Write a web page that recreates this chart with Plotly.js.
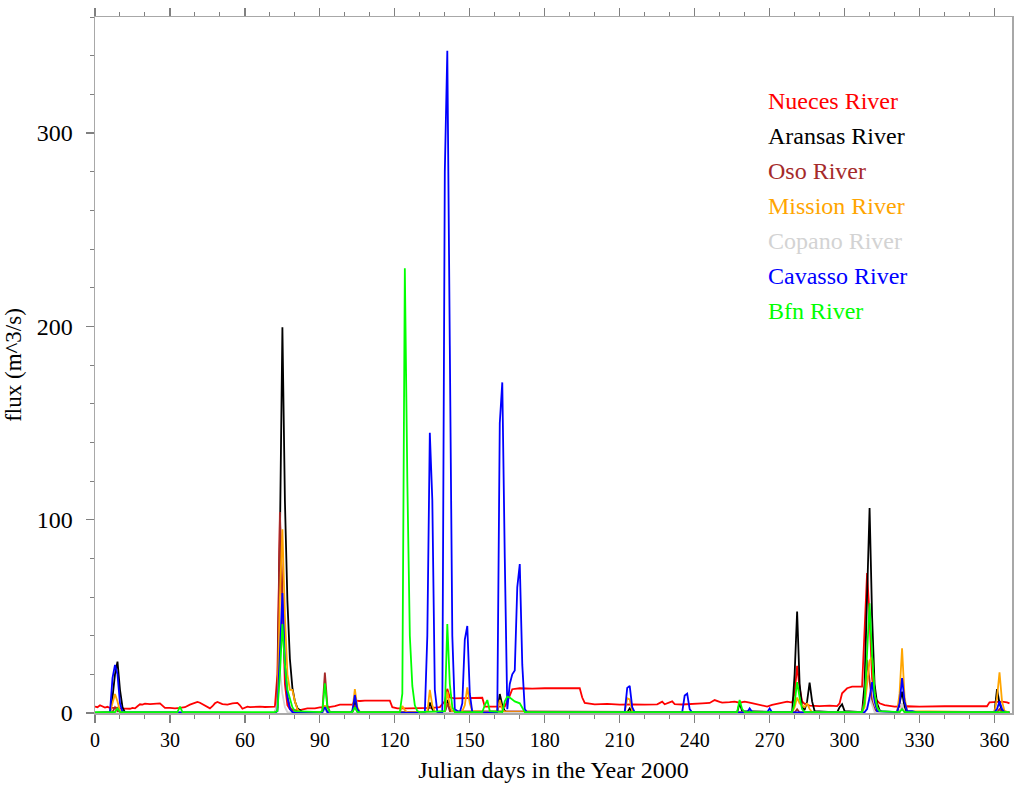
<!DOCTYPE html>
<html>
<head>
<meta charset="utf-8">
<script src="https://cdn.plot.ly/plotly-3.0.1.min.js"></script>
<style>
  html, body { margin: 0; padding: 0; background: #fff; }
  #chart { width: 1014px; height: 785px; }
</style>
</head>
<body>
<div id="chart"></div>
<script>
// Daily river fluxes (m^3/s) for 2000, stored as (Julian day, flux) pairs per river.
const riverNames = ["Nueces River", "Aransas River", "Oso River", "Mission River",
                    "Copano River", "Cavasso River", "Bfn River"];
const riverColors = ["#ff0000", "#000000", "#a52a2a", "#ffa500", "#d3d3d3", "#0000ff", "#00ff00"];

const nuecesDay = [0,1,2,3,4,5,6,8,9,10,12,14,15,16,17,18,19,20,22,24,26,27,28,30,32,34,36,38,40,41,42,44,46,47,48,49,50,51,53,55,57,58,59,60,61,62,64,66,68,70,72,73,74,75,76,77,78,80,82,85,88,90,93,96,98,100,103,104,106,108,110,114,118,119,121,125,130,135,138,140,141,142,144,148,152,155,156,160,164,166,167,170,175,180,185,190,194,195,196,200,205,210,215,220,225,227,228,231,232,235,238,241,243,246,248,250,251,254,256,258,260,262,264,267,269,271,273,275,277,279,280,281,282,283,284,286,290,294,297,298,299,301,303,307,308,309,310,311,312,314,316,320,325,330,340,350,357,358,363,365,366];
const nuecesFlux = [3.3,3.0,4.0,3.4,2.8,3.2,2.6,2.6,2.8,2.4,2.2,2.2,2.6,2.4,3.5,4.5,4.3,4.8,4.6,4.8,5.0,3.8,2.6,2.6,2.4,2.6,3.0,4.3,5.2,5.7,5.3,3.8,2.4,3.5,5.0,5.7,5.0,4.6,4.3,5.0,5.2,4.0,2.2,2.6,3.3,3.0,3.3,3.3,3.1,3.3,3.3,20,100,60,15,4,2.0,1.5,1.5,2.4,2.4,2.9,2.9,3.5,4.3,4.3,4.3,6.4,6.2,6.4,6.4,6.6,6.4,3.0,2.4,2.4,2.4,2.6,3.0,6.0,12.5,8.0,7.6,7.8,7.9,7.9,3.3,3.2,3.3,9.0,12.3,12.8,12.6,12.8,12.9,12.8,12.8,8.0,5.2,4.5,4.7,4.3,4.5,4.3,4.5,5.9,4.5,6.0,4.6,4.4,4.5,4.8,5.0,5.2,6.7,5.8,5.4,5.6,5.9,5.3,5.9,5.4,4.7,3.8,3.3,4.2,4.7,5.5,5.9,5.4,10,24.4,13,6,4.7,3.8,3.6,3.8,3.6,5.0,10.2,12.8,13.6,13.6,40,72.4,50,18,8,5.0,4.1,3.3,3.5,3.3,3.5,3.3,3.5,5.5,5.9,5.5,5.0];

const aransasDay = [0,6,7,8,9,10,11,12,72,73,74,75,76,77,78,79,80,81,83,91,92,93,103,104,105,106,133,134,135,136,140,141,142,143,161,162,163,164,165,213,214,215,257,258,259,279,280,281,282,283,284,285,286,287,288,297,298,299,300,307,308,309,310,311,312,313,314,315,321,322,323,324,325,360,361,362,363,366];
const aransasFlux = [0,0,8,20,26.6,12,3,0.3,0,3,90,199.5,110,58,28,13,6,2.5,0.5,0.3,3,0.3,0.5,6.7,2,0.3,0.5,5.4,2,0.3,0.5,6.7,2.5,0.5,0.5,9.8,4,1,0.2,0.3,2.4,0.5,0.3,5,1,0.3,20,52.5,15,3,1.5,6,15.7,6,1,0.3,3,4.5,1,0.5,15,60,106,50,15,5,1.5,0.5,0.5,5,11,3,0.5,0.5,12.3,5,1,0.3];

const osoDay = [0,7,8,9,10,72,73,74,75,76,77,78,79,80,90,91,92,93,94,103,104,105,140,141,142,280,281,282,307,308,309,310,311,312,313,322,323,324,361,362,363,366];
const osoFlux = [0,0.5,3,1,0,0,5,104,60,25,9,3,1,0,0,1,20.9,4,0.5,0,4,0.5,0.3,5,1,0.3,2,0.3,0.5,8,27.5,18,6,2,0.5,0.5,3,0.5,0.5,2,0.5,0];

const missionDay = [0,6,7,8,9,10,11,72,73,74,75,76,77,78,79,80,81,82,91,92,93,102,103,104,105,106,122,123,124,125,133,134,135,136,140,141,142,143,147,148,149,150,151,160,161,162,163,164,212,213,214,215,216,279,280,281,282,284,285,286,287,307,308,309,310,311,312,313,314,321,322,323,324,325,360,361,362,363,364,366];
const missionFlux = [0,0.5,5,9.8,6,1,0.2,0,2,60,95,50,20,12,12,6,2,0.5,0.3,4,0.5,0.2,1,12.3,3,0.5,0.3,3.6,1.5,0.3,0.5,12,4,0.5,1,11,4,0.5,1,4,13.3,5,1,0.5,1.5,6.7,2,0.5,0.3,7.6,7,1,0.2,0.3,3,8,5,3,5,2,0.5,0.5,3,15,27,29,10,3,0.8,0.5,10,33.5,8,1,0.5,8,21,6,1,0.3];

const copanoDay = [0,72,73,74,75,76,77,91,92,93,308,309,310,311,312,322,323,324,366];
const copanoFlux = [0,0,5,22,10,3,0.5,0,2,0,0,3,8,4,0.5,0,5,0,0];

const cavassoDay = [0,6,7,8,9,10,11,72,73,74,75,76,77,78,79,90,91,92,93,102,103,104,105,106,132,133,134,135,136,137,139,140,141,142,143,144,146,147,148,149,150,151,161,162,163,164,165,166,167,168,169,170,171,172,173,212,213,214,215,216,235,236,237,238,239,261,262,263,264,269,270,271,308,309,310,311,312,313,321,322,323,324,325,327,329,360,361,362,363,364,366];
const cavassoFlux = [0,0.5,18,24.9,20,5,0.5,0,1,35,62,25,8,2,0.5,0,0.5,3,0.5,0,1,9.3,2,0.3,0,40,145,110,12,0.5,0.3,280,342.5,190,40,2,0.3,5,38,45,10,0.5,0.3,150,171,80,2,15,20,22,65,77,25,2,0.3,0.3,13,14,3,0.3,0.3,9,10,2,0.3,0.3,2.4,0.5,0.2,0.3,2.4,0.3,0.5,2,8,16,6,1,0.5,5,18,6,1,1,0.3,0.5,2,6,2,0.5,0];

const bfnDay = [0,8,9,10,33,34,35,72,73,74,75,76,77,78,79,80,90,91,92,93,94,103,104,105,121,122,123,124,125,126,127,128,129,130,140,141,142,143,144,155,156,157,158,163,164,165,166,168,170,171,172,256,257,258,259,260,279,280,281,282,283,284,307,308,309,310,311,312,313,314,322,323,324,366];
const bfnFlux = [0.5,0.5,2.4,0.5,0.5,3.3,0.5,0.5,1,20,46,25,12,6.7,3,1,0.5,1,15.4,3,0.5,0.5,3,0.5,0.5,0.5,10,230,120,40,14,4,1,0.5,1,46,15,3,0.5,0.5,4,6.7,1,0.5,6,8.5,8,6,5,2.4,0.5,0.5,0.5,6.7,2,0.5,0.5,5,16,8,2,0.5,0.5,5,35,56.8,30,10,3,1,0.5,2,0.5,0.5];

const seriesDays = [nuecesDay, aransasDay, osoDay, missionDay, copanoDay, cavassoDay, bfnDay];
const seriesFlux = [nuecesFlux, aransasFlux, osoFlux, missionFlux, copanoFlux, cavassoFlux, bfnFlux];

const serif = "Liberation Serif, Times New Roman, serif";

const traces = riverNames.map((name, i) => ({
  type: "scatter",
  mode: "lines",
  name: name,
  x: seriesDays[i],
  y: seriesFlux[i],
  line: { color: riverColors[i], width: 1.8 },
  hoverinfo: "x+y+name"
}));

// Coloured text labels stacked in the upper right, one per river.
const labelTop = 0.8793, labelStep = 0.0503;
const annotations = riverNames.map((name, i) => ({
  xref: "paper", yref: "paper",
  x: 0.7317, y: labelTop - i * labelStep,
  xanchor: "left", yanchor: "middle",
  text: name, showarrow: false,
  font: { family: serif, size: 24, color: riverColors[i] }
}));

const axisCommon = {
  showgrid: false, zeroline: false,
  showline: true, linecolor: "#a8a8a8", linewidth: 1.5,
  mirror: "ticks",
  ticks: "outside", ticklen: 8, tickwidth: 1.2, tickcolor: "#808080"
};

const layout = {
  width: 1014, height: 785,
  margin: { l: 95, r: 2, t: 17, b: 72 },
  paper_bgcolor: "#ffffff", plot_bgcolor: "#ffffff",
  showlegend: false,
  annotations: annotations,
  xaxis: Object.assign({}, axisCommon, {
    range: [0, 367],
    tick0: 0, dtick: 30,
    minor: { dtick: 10, ticks: "outside", ticklen: 4, tickcolor: "#808080", tickwidth: 1 },
    tickfont: { family: serif, size: 20, color: "#000" },
    title: { text: "Julian days in the Year 2000", font: { family: serif, size: 24, color: "#000" }, standoff: 11 }
  }),
  yaxis: Object.assign({}, axisCommon, {
    range: [0, 360],
    tick0: 0, dtick: 100,
    minor: { dtick: 20, ticks: "outside", ticklen: 4, tickcolor: "#808080", tickwidth: 1 },
    tickfont: { family: serif, size: 24, color: "#000" },
    ticklabelstandoff: 8,
    title: { text: "flux (m^3/s)", font: { family: serif, size: 23, color: "#000" }, standoff: 8 }
  })
};

Plotly.newPlot("chart", traces, layout, { displayModeBar: false, staticPlot: true });
</script>
</body>
</html>
